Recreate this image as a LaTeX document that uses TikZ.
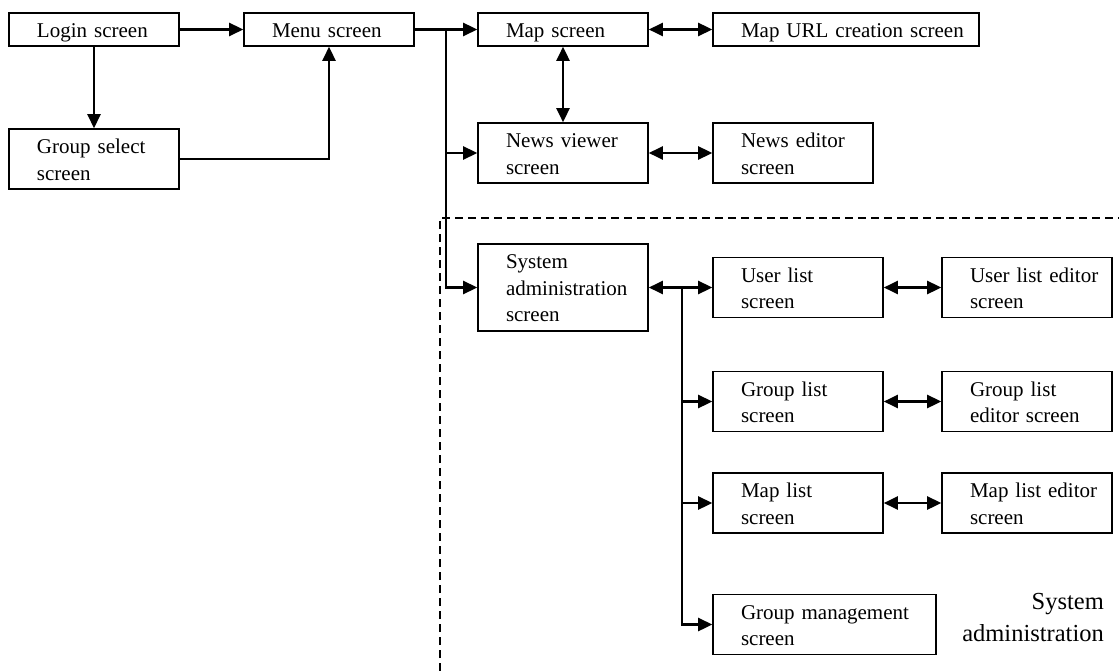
\documentclass[tikz,border=0pt]{standalone}
\usepackage{fontspec}
\setmainfont{Liberation Serif}
\usetikzlibrary{arrows.meta}
\begin{document}
\begin{tikzpicture}[x=1pt,y=-1pt,
    screen/.style={draw,line width=1.6pt,inner xsep=0pt,inner ysep=0pt,
      font=\fontsize{21}{26.5}\selectfont,
      execute at begin node={\raggedright\leftskip=28pt\relax\rule{0pt}{21pt}},
      execute at end node={\rule[-5pt]{0pt}{5pt}}},
    link/.style={line width=2.6pt,-{Triangle[length=14pt,width=13pt]}},
    both/.style={line width=2.6pt,{Triangle[length=14pt,width=13pt]}-{Triangle[length=14pt,width=13pt]}}]
\useasboundingbox (0,0) rectangle (1119,671);
\draw[line width=1.3pt,dash pattern=on 8pt off 5pt] (440,671) -- (440,218) -- (1119,218);
\begin{scope}[every node/.style={screen}]
\node[text width=170pt,minimum height=33pt] (login) at (94,29.5) {Login screen};
\node[text width=170pt,minimum height=33pt] (menu) at (329,29.5) {Menu screen};
\node[text width=170pt,minimum height=60pt] (groupsel) at (94,159) {Group select\\screen};
\node[text width=170pt,minimum height=33pt] (map) at (563,29.5) {Map screen};
\node[text width=266pt,minimum height=33pt] (mapurl) at (846,29.5) {Map URL creation screen};
\node[text width=170pt,minimum height=60pt] (newsview) at (563,153) {News viewer\\screen};
\node[text width=160pt,minimum height=60pt] (newsedit) at (793,153) {News editor\\screen};
\node[text width=170pt,minimum height=87pt] (sysadmin) at (563,287.5) {System\\administration\\screen};
\node[text width=170pt,minimum height=60pt] (userlist) at (798,287.5) {User list\\screen};
\node[text width=170pt,minimum height=60pt] (userlisted) at (1027,287.5) {User list editor\\screen};
\node[text width=170pt,minimum height=60pt] (grouplist) at (798,401.5) {Group list\\screen};
\node[text width=170pt,minimum height=60pt] (grouplisted) at (1027,401.5) {Group list\\editor screen};
\node[text width=170pt,minimum height=60pt] (maplist) at (798,503) {Map list\\screen};
\node[text width=170pt,minimum height=60pt] (maplisted) at (1027,503) {Map list editor\\screen};
\node[text width=223pt,minimum height=60pt] (groupmgmt) at (824.5,624.5) {Group management\\screen};
\end{scope}
\node[font=\fontsize{24.5}{32}\selectfont,align=right,anchor=north east,inner sep=0pt] (syslabel) at (1104,593) {System\\administration};
\coordinate (ta) at (446,29.5);
\coordinate (sa) at (682,287.5);
\draw[link] (login) -- (menu);
\draw[link] (login) -- (groupsel);
\draw[link] (groupsel) -| (menu);
\draw[link] (menu) -- (ta) -- (map);
\draw[link] (ta) |- (sysadmin);
\draw[link] (ta |- newsview) -- (newsview);
\draw[both] (map) -- (mapurl);
\draw[both] (map) -- (newsview);
\draw[both] (newsview) -- (newsedit);
\draw[both] (sysadmin) -- (userlist);
\draw[link] (sa) |- (groupmgmt);
\foreach \n in {grouplist,maplist}
  \draw[link] (sa |- \n) -- (\n);
\foreach \a/\b in {userlist/userlisted,grouplist/grouplisted,maplist/maplisted}
  \draw[both] (\a) -- (\b);
\end{tikzpicture}
\end{document}
